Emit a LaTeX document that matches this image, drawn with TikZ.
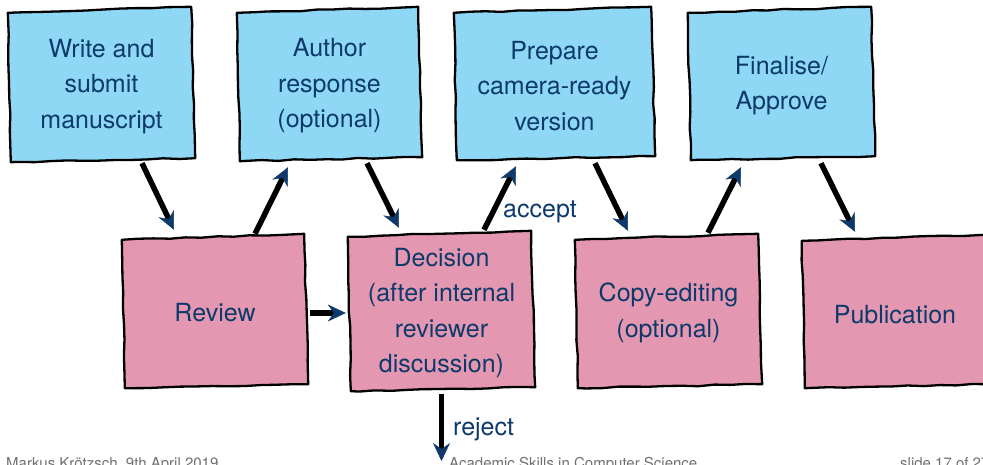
\documentclass[tikz,border=0pt]{standalone}
\usepackage{fontspec}
\setmainfont{TeX Gyre Heros}
\usetikzlibrary{arrows.meta,decorations.pathmorphing,backgrounds}
\definecolor{boxblue}{HTML}{8ED8F6}
\definecolor{boxpink}{HTML}{E497B0}
\definecolor{txtnavy}{HTML}{0E3A6B}
\definecolor{footgrey}{HTML}{707070}
% outline of a box, a slightly skewed hand-drawn quadrilateral round node #1
\newcommand\skbox[3]{%
  \filldraw[sketchline,fill=#2]
    ([shift={(0,6-#3)}]#1.north west) -- ([shift={(-4,-#3)}]#1.north east) --
    ([shift={(0,-4-#3)}]#1.south east) -- ([shift={(3,-#3)}]#1.south west) -- cycle;}
\begin{document}
\pgfmathsetseed{11}
\begin{tikzpicture}[x=1pt,y=-1pt,
  sketchline/.style={draw=black,line width=2.3pt,line join=round,
    decorate,decoration={random steps,segment length=16pt,amplitude=0.7pt}},
  boxtext/.style={inner sep=0pt,align=center,text=txtnavy,
    font=\fontsize{25}{35.5}\selectfont},
  arr/.style={line width=5.5pt,draw=black,
    -{Stealth[length=18pt,width=17pt,inset=6pt,line width=0.5pt,color=txtnavy]}},
  lbl/.style={text=txtnavy,font=\fontsize{25}{30}\selectfont,inner sep=0pt},
  foot/.style={text=footgrey,font=\fontsize{15}{18}\selectfont,inner sep=0pt,anchor=base west}]
\useasboundingbox (0,0) rectangle (983,464);
\clip (0,0) rectangle (983,464);
% top row
\node[boxtext,minimum width=187pt,minimum height=155pt] (w) at (101.5,86.5) {Write and\\submit\\manuscript};
\node[boxtext,minimum width=185pt,minimum height=154pt] (a) at (329.5,86) {Author\\response\\(optional)};
\node[boxtext,minimum width=201pt,minimum height=153pt] (p) at (554.5,86) {Prepare\\camera-ready\\version};
\node[boxtext,minimum width=187pt,minimum height=153pt] (f) at (781.5,85.5) {Finalise/\\Approve};
% bottom row
\node[boxtext,minimum width=186pt,minimum height=154pt] (r) at (215,313) {Review};
\node[boxtext,minimum width=187pt,minimum height=160pt] (d) at (441.5,313) {Decision\\(after internal\\reviewer\\discussion)};
\node[boxtext,minimum width=187pt,minimum height=154pt] (c) at (668.5,313) {Copy-editing\\(optional)};
\node[boxtext,minimum width=186pt,minimum height=153pt] (pub) at (895,314.5) {Publication};
\begin{scope}[on background layer]
  \skbox{w}{boxblue}{2}
  \skbox{a}{boxblue}{2}
  \skbox{p}{boxblue}{2.5}
  \skbox{f}{boxblue}{2}
  \skbox{r}{boxpink}{2}
  \skbox{d}{boxpink}{2}
  \skbox{c}{boxpink}{2}
  \skbox{pub}{boxpink}{3}
\end{scope}
% connectors
\draw[arr] ([shift={(40.5,-1)}]w.south) -- ([shift={(-41,-6)}]r.north);
\draw[arr] ([shift={(40,-2)}]r.north) -- ([shift={(-41.5,4)}]a.south);
\draw[arr] ([shift={(37.5,0)}]a.south) -- ([shift={(-42.5,-5)}]d.north);
\draw[arr] ([shift={(2,0)}]r.east) -- ([shift={(-2,0)}]d.west);
\draw[arr] ([shift={(42.5,-3)}]d.north) -- ([shift={(-38.5,3.5)}]p.south);
\draw[arr] ([shift={(40.5,0.5)}]p.south) -- ([shift={(-40.5,-5)}]c.north);
\draw[arr] ([shift={(39.5,-3)}]c.north) -- ([shift={(-40.5,5)}]f.south);
\draw[arr] ([shift={(39.5,1)}]f.south) -- ([shift={(-40,-6)}]pub.north);
\coordinate (rej) at (441.5,461);
\draw[arr] ([shift={(0,1)}]d.south) -- (rej);
% labels
\node[lbl,anchor=west] (acc) at (503,212) {accept};
\node[lbl,anchor=west] (rejl) at (453,429) {reject};
% footer
\node[foot] (f1) at (6,468) {Markus Krötzsch, 9th April 2019};
\node[foot] (f2) at (449,468) {Academic Skills in Computer Science};
\node[foot] (f3) at (900,468) {slide 17 of 27};
\end{tikzpicture}
\end{document}
